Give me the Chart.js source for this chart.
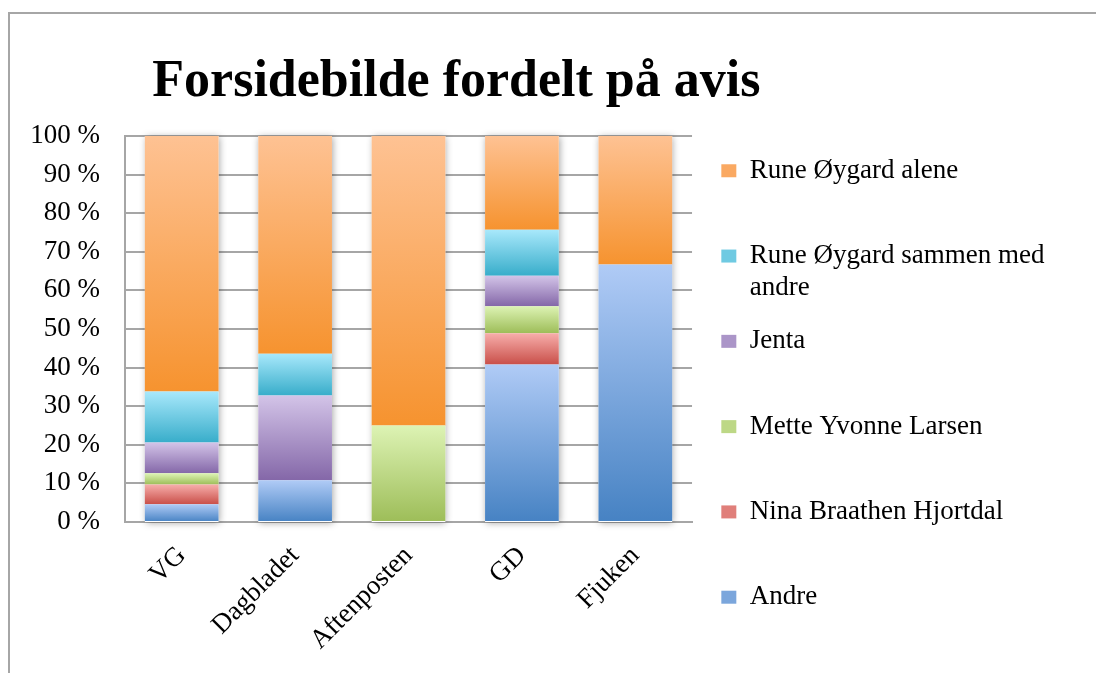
<!DOCTYPE html>
<html>
<head>
<meta charset="utf-8">
<title>Forsidebilde fordelt på avis</title>
<script src="https://cdn.jsdelivr.net/npm/chart.js@4/dist/chart.umd.min.js"></script>
<style>
    html, body { margin: 0; padding: 0; background: #fff; overflow: hidden; }
    #wrap { position: relative; width: 1096px; height: 673px; }
    #frame { position: absolute; left: 8px; top: 12px; width: 2000px; height: 2000px; border: 2px solid #a6a6a6; }
    #chart { position: absolute; left: 0; top: 0; }
</style>
</head>
<body>
<div id="wrap">
    <div id="frame"></div>
    <canvas id="chart" width="1096" height="673"></canvas>
</div>
<script>
// --- DATA ---
const categories = ['VG', 'Dagbladet', 'Aftenposten', 'GD', 'Fjuken'];

// share of front pages in percent, bottom of the stack first
const andre = [4.6, 10.8, 0, 40.8, 66.7];
const ninaBraathenHjortdal = [5.1, 0, 0, 8.1, 0];
const metteYvonneLarsen = [2.9, 0, 25, 7.0, 0];
const jenta = [8.0, 22.0, 0, 7.9, 0];
const runeSammenMedAndre = [13.2, 10.8, 0, 11.9, 0];
const runeAlene = [66.2, 56.4, 75, 24.3, 33.3];

const seriesNames = ['Andre', 'Nina Braathen Hjortdal', 'Mette Yvonne Larsen', 'Jenta', 'Rune Øygard sammen med andre', 'Rune Øygard alene'];
const seriesValues = [andre, ninaBraathenHjortdal, metteYvonneLarsen, jenta, runeSammenMedAndre, runeAlene];

const yTicks = [0, 10, 20, 30, 40, 50, 60, 70, 80, 90, 100];

// --- STYLES ---
// light (top of segment) -> dark (bottom of segment)
const topColors = ['#b0cbf6', '#f7aeab', '#ddf3b4', '#d3c4e8', '#a8e8fb', '#fec293'];
const bottomColors = ['#4682c3', '#c94f49', '#9dbd58', '#8467a8', '#38adca', '#f6932f'];
const midColors = ['#7ba6dc', '#e07f7a', '#bdd886', '#ab95c8', '#6fcae2', '#faa962'];

const serif = "'Liberation Serif', 'Times New Roman', serif";

// gradient per segment, from its own top to its own bottom
function segmentFill(ctx) {
    const chart = ctx.chart;
    const i = ctx.datasetIndex;
    if (!chart.chartArea || ctx.dataIndex === undefined) return midColors[i];
    const j = ctx.dataIndex;
    let base = 0;
    for (let k = 0; k < i; k++) base += seriesValues[k][j];
    const y = chart.scales.y;
    const yBottom = y.getPixelForValue(base);
    const yTop = y.getPixelForValue(base + seriesValues[i][j]);
    const g = chart.ctx.createLinearGradient(0, yTop, 0, Math.max(yBottom, yTop + 1));
    g.addColorStop(0, topColors[i]);
    g.addColorStop(1, bottomColors[i]);
    return g;
}

// soft shadow behind each full bar
const barShadow = {
    id: 'barShadow',
    beforeDatasetsDraw(chart) {
        const meta = chart.getDatasetMeta(0);
        const y = chart.scales.y;
        const top = y.getPixelForValue(100);
        const bottom = y.getPixelForValue(0);
        const c = chart.ctx;
        c.save();
        c.shadowColor = 'rgba(0,0,0,0.35)';
        c.shadowBlur = 7;
        c.shadowOffsetX = 1;
        c.shadowOffsetY = 1;
        c.fillStyle = '#fff';
        meta.data.forEach(bar => {
            c.fillRect(bar.x - bar.width / 2, top, bar.width, bottom - top);
        });
        c.restore();
    }
};

// shift title and legend a bit, and let the legend text run to the edge
const nudge = {
    id: 'nudge',
    afterLayout(chart) {
        if (chart.titleBlock) {
            chart.titleBlock.left -= 5;
            chart.titleBlock.right -= 5;
        }
        if (chart.legend) {
            chart.legend.left += 8;
            chart.legend.right = chart.width;
            chart.legend.width = chart.legend.right - chart.legend.left;
        }
    }
};

function wrapLabel(text) {
    if (text.length <= 24) return [text, ''];
    const cut = text.lastIndexOf(' ', 24);
    return [text.slice(0, cut), text.slice(cut + 1)];
}

new Chart(document.getElementById('chart'), {
    type: 'bar',
    data: {
        labels: categories,
        datasets: seriesNames.map((name, i) => ({
            label: name,
            data: seriesValues[i],
            backgroundColor: segmentFill,
            borderWidth: 0,
            barPercentage: 0.65,
            categoryPercentage: 1
        }))
    },
    options: {
        responsive: false,
        animation: false,
        layout: { padding: { top: 0, left: 0, right: 173.3, bottom: 4 } },
        plugins: {
            title: {
                display: true,
                text: 'Forsidebilde fordelt på avis',
                color: '#000',
                font: { family: serif, size: 52, weight: 'bold' },
                padding: { top: 51, bottom: 22.6 }
            },
            legend: {
                position: 'right',
                align: 'end',
                reverse: true,
                labels: {
                    color: '#000',
                    font: { family: serif, size: 27, lineHeight: 1.185 },
                    boxWidth: 15,
                    boxHeight: 13,
                    padding: 21.3,
                    generateLabels(chart) {
                        const items = Chart.defaults.plugins.legend.labels.generateLabels(chart);
                        items.forEach(item => {
                            item.text = wrapLabel(seriesNames[item.datasetIndex]);
                            item.fillStyle = midColors[item.datasetIndex];
                            item.strokeStyle = midColors[item.datasetIndex];
                            item.lineWidth = 0;
                        });
                        return items;
                    }
                }
            },
            tooltip: { enabled: false }
        },
        scales: {
            x: {
                stacked: true,
                grid: { display: false },
                border: { display: true, color: '#a6a6a6', width: 2 },
                ticks: {
                    color: '#000',
                    font: { family: serif, size: 27 },
                    minRotation: 45,
                    maxRotation: 45,
                    padding: 10
                },
                afterFit(scale) { scale.height = 147; }
            },
            y: {
                stacked: true,
                min: 0,
                max: 100,
                afterBuildTicks(scale) { scale.ticks = yTicks.map(v => ({ value: v })); },
                grid: { color: '#a6a6a6', lineWidth: 2, drawTicks: false },
                border: { display: true, color: '#a6a6a6', width: 2 },
                ticks: {
                    color: '#000',
                    font: { family: serif, size: 27 },
                    padding: 25,
                    callback: v => v + ' %'
                },
                afterFit(scale) { scale.width = 125; }
            }
        }
    },
    plugins: [barShadow, nudge]
});
</script>
</body>
</html>
